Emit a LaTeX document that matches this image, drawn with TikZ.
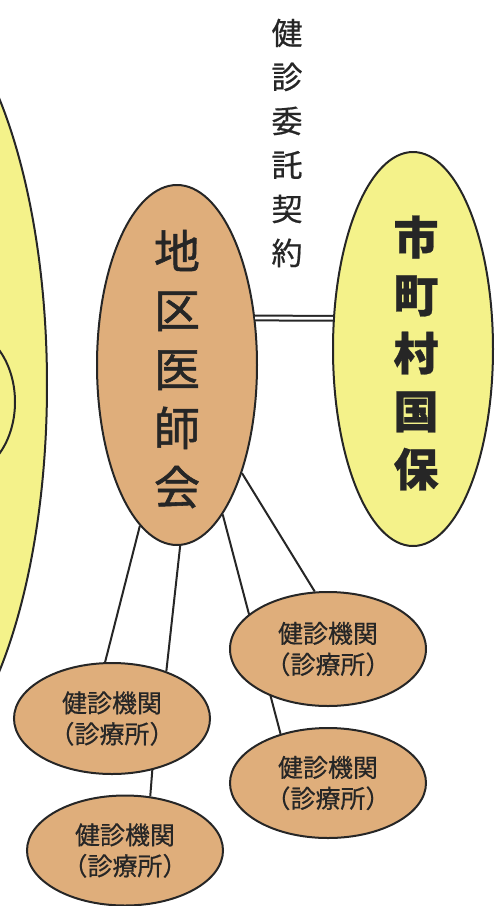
\documentclass[tikz,border=0pt]{standalone}
\usepackage{fontspec}
\newfontfamily\jp{Noto Sans CJK JP}[FakeBold=0.6]
\newfontfamily\jpm{Noto Sans CJK JP}[FakeBold=1.2]
\usetikzlibrary{shapes.geometric}
\definecolor{hada}{HTML}{DFAE7B}
\definecolor{kiiro}{HTML}{F4F28A}
\definecolor{sumi}{HTML}{262626}
\begin{document}
\begin{tikzpicture}[x=1pt,y=-1pt,line width=2pt,color=sumi]
  \tikzset{ kikan/.style={draw, ellipse, fill=hada, minimum width=196pt, minimum height=110pt, inner sep=0pt, align=center, font=\jp\fontsize{25}{31}\selectfont},
            tate/.style={align=center, inner sep=0pt} };
  \clip (0,0) rectangle (495,906);
  \draw[fill=kiiro] (-111,385) ellipse [x radius=158pt, y radius=400pt];
  \draw (-40,402) ellipse [x radius=55pt, y radius=74pt];
  \node[draw, ellipse, fill=hada, minimum width=160pt, minimum height=360pt] (ishikai) at (177,365) {};
  \node[tate, font=\jpm\fontsize{46}{59}\selectfont] (ishikaiMoji) at (177,369) {地\\区\\医\\師\\会};
  \node[draw, ellipse, fill=kiiro, minimum width=160pt, minimum height=394pt] (kokuho) at (413,349) {};
  \node[tate, font=\jp\bfseries\fontsize{45}{58}\selectfont] (kokuhoMoji) at (416,353) {市\\町\\村\\国\\保};
  \node[tate, font=\jp\fontsize{31}{44}\selectfont] (keiyaku) at (287,143) {健\\診\\委\\託\\契\\約};
  \draw[double=white, double distance=2.8pt, line width=2pt] (ishikai.31) -- (kokuho.159);
  \node[kikan] (k3) at (328,783) {健診機関\\（診療所）};
  \draw (ishikai.287) -- (k3.134);
  \node[kikan, minimum height=114pt] (k1) at (328,649) {健診機関\\（診療所）};
  \draw (ishikai.301) -- (k1.103);
  \node[kikan, minimum height=111pt] (k2) at (112,718.5) {健診機関\\（診療所）};
  \draw (ishikai.257) -- (k2.97);
  \draw (ishikai.271) -- (k2.41);
  \node[kikan] (k4) at (125,850.5) {健診機関\\（診療所）};
  \draw (k2.308) -- (k4.65);
\end{tikzpicture}
\end{document}
